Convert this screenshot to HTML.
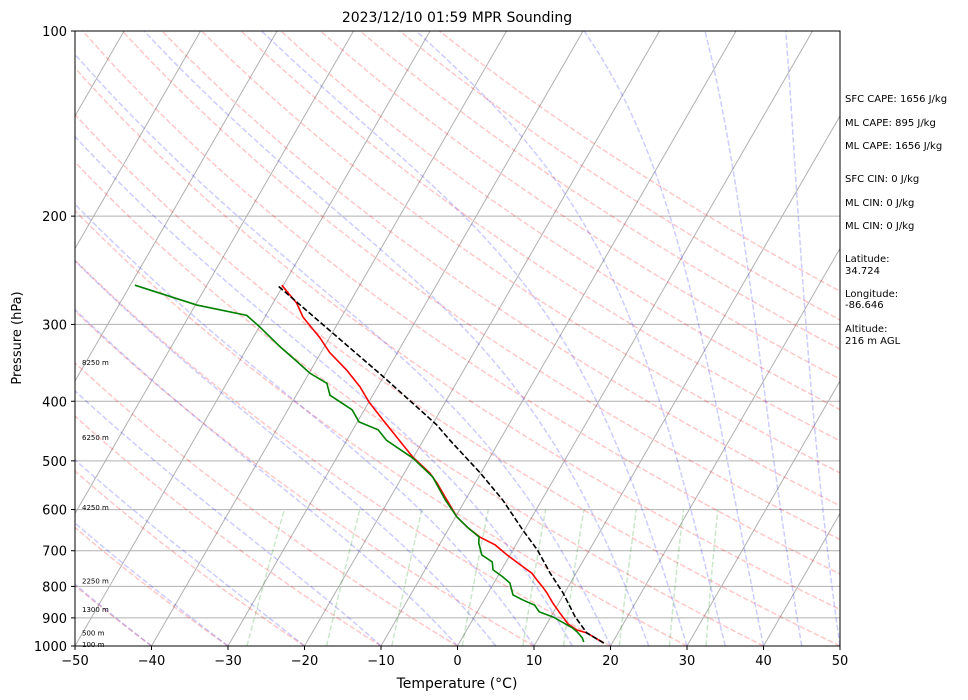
<!DOCTYPE html>
<html><head><meta charset="utf-8"><style>
body{margin:0;background:#fff;}
svg{display:block;font-family:"DejaVu Sans","Liberation Sans",sans-serif;}
</style></head><body>
<svg id="chart" width="968" height="700" viewBox="0 0 968 700" xmlns="http://www.w3.org/2000/svg">
<defs><clipPath id="plotclip"><rect x="75" y="31" width="765" height="615"/></clipPath></defs>
<rect x="0" y="0" width="968" height="700" fill="#fff"/>
<text x="457" y="22" font-size="14" text-anchor="middle">2023/12/10 01:59 MPR Sounding</text>
<g id="bg" clip-path="url(#plotclip)"></g>
<g id="series" clip-path="url(#plotclip)"></g>
<g id="axes"></g>
<text x="457" y="688" font-size="14" text-anchor="middle">Temperature (°C)</text>
<text transform="translate(21,338) rotate(-90)" font-size="13" text-anchor="middle">Pressure (hPa)</text>
<g font-size="10">
<text x="845" y="102">SFC CAPE: 1656 J/kg</text>
<text x="845" y="126">ML CAPE: 895 J/kg</text>
<text x="845" y="149">ML CAPE: 1656 J/kg</text>
<text x="845" y="182">SFC CIN: 0 J/kg</text>
<text x="845" y="206">ML CIN: 0 J/kg</text>
<text x="845" y="229">ML CIN: 0 J/kg</text>
<text x="845" y="262">Latitude:</text>
<text x="845" y="274">34.724</text>
<text x="845" y="297">Longitude:</text>
<text x="845" y="308">-86.646</text>
<text x="845" y="332">Altitude:</text>
<text x="845" y="344">216 m AGL</text>
</g>
</svg>
<script>
const tempP=[989,952,942,921,884,851,820,802,781,761,738,711,685,665,643,617,579,543,523,493,450,429,401,379,356,333,315,292,277,259];
const tempT=[18.9,15.9,14.4,12.8,10.9,9.2,7.7,6.7,5.4,4.2,2.1,-0.4,-2.7,-5.3,-7.5,-9.8,-12.4,-15.0,-16.7,-20.1,-24.5,-26.8,-30.0,-32.3,-35.3,-38.9,-41.3,-45.0,-46.9,-50.2];
const dewP=[985,970,949,935,897,880,858,842,826,790,772,752,730,711,680,665,643,617,579,531,495,463,445,432,413,391,374,360,345,326,303,290,279,259];
const dewT=[16.2,15.7,14.6,13.7,10.3,8.1,7.0,5.1,3.4,2.1,0.7,-1.1,-1.8,-3.7,-5.0,-5.4,-7.5,-9.8,-12.6,-16.0,-20.0,-24.8,-26.7,-29.8,-31.6,-35.6,-36.9,-39.9,-42.4,-45.8,-49.9,-52.5,-59.8,-69.4];
const parcelP=[989,952,897,820,761,698,648,579,523,463,437,365,310,259];
const parcelT=[18.9,15.9,13.2,9.8,6.6,3.2,-0.2,-5.1,-10.1,-16.5,-19.4,-30.0,-39.9,-50.8];
const xTicks=[-50,-40,-30,-20,-10,0,10,20,30,40,50];
const pTicks=[100,200,300,400,500,600,700,800,900,1000];
const heightLabels=["8250 m","6250 m","4250 m","2250 m","1300 m","500 m","100 m"];
const heightP=[345,457,594,782,870,950,993];
const mixRatios=[0.0004,0.001,0.002,0.004,0.007,0.01,0.016,0.024,0.032];

const NS="http://www.w3.org/2000/svg";
const SKEW=Math.tan(Math.PI/6);
function yPix(p){return 646-615*Math.log10(1000/p);}
function xPix(T,p){return 75+(T+50)*7.65+(646-yPix(p))*SKEW;}
function mk(tag,attrs,parent){const e=document.createElementNS(NS,tag);for(const k in attrs)e.setAttribute(k,attrs[k]);parent.appendChild(e);return e;}
const bg=document.getElementById('bg'),ser=document.getElementById('series'),ax=document.getElementById('axes');
function pathFrom(ps,ts){return ps.map((p,i)=>(i?'L':'M')+xPix(ts[i],p).toFixed(2)+','+yPix(p).toFixed(2)).join('');}
const pLevels=[];for(let p=1000;p>=100;p-=10)pLevels.push(p);

// isobars
for(let i=1;i<pTicks.length-1;i++){
  const l=mk('line',{x1:75,x2:840,y1:yPix(pTicks[i]),y2:yPix(pTicks[i]),stroke:'#b0b0b0','stroke-width':1},bg);
  
  
}
// isotherms
for(let T=-150;T<=50;T+=10){
  const l=mk('line',{x1:xPix(T,1000),y1:yPix(1000),x2:xPix(T,100),y2:yPix(100),stroke:'#b0b0b0','stroke-width':1},bg);
  
  
}
// dry adiabats
for(let th=-50;th<=160;th+=10){
  const K=th+273.15;const ts=pLevels.map(p=>K*Math.pow(p/1000,0.2857)-273.15);
  const e=mk('path',{d:pathFrom(pLevels,ts),fill:'none',stroke:'rgba(255,0,0,0.22)','stroke-width':1.5,'stroke-dasharray':'5.5,2.4'},bg);
  
  
}
// moist adiabats
function es(Tc){return 6.112*Math.exp(17.67*Tc/(Tc+243.5));}
function moist(T0){
  const ts=[];let T=T0+273.15;let p=1000;ts.push(T0);
  const Rd=287.04,Cp=1005.7,Lv=2.501e6,eps=0.622;
  for(let i=1;i<pLevels.length;i++){
    const pn=pLevels[i];const n=10;const dp=(pn-p)/n;
    for(let k=0;k<n;k++){
      const e=es(T-273.15);const rs=eps*e/(p-e);
      const dTdp=(1/p)*(Rd*T+Lv*rs)/(Cp+Lv*Lv*rs*eps/(Rd*T*T));
      T+=dTdp*dp;p+=dp;
    }
    ts.push(T-273.15);
  }
  return ts;
}
const moistT0=[-50,-40,-30,-20,-10,0,5,10,15,20,25,30,35,40,45,50];
moistT0.forEach(t0=>{
  const e=mk('path',{d:pathFrom(pLevels,moist(t0)),fill:'none',stroke:'rgba(0,0,255,0.2)','stroke-width':1.5,'stroke-dasharray':'5.5,2.4'},bg);
  
  
});
// mixing ratio lines
const mixP=[];for(let p=1000;p>=600;p-=20)mixP.push(p);
mixRatios.forEach(w=>{
  const ts=mixP.map(p=>{const e=p*w/(0.622+w);const l=Math.log(e/6.112);return 243.5*l/(17.67-l);});
  const e=mk('path',{d:pathFrom(mixP,ts),fill:'none',stroke:'rgba(0,128,0,0.2)','stroke-width':1.5,'stroke-dasharray':'5.5,2.4'},bg);
  
  
});
// series
const tl=mk('path',{d:pathFrom(tempP,tempT),fill:'none',stroke:'#ff0000','stroke-width':1.6},ser);


const dl=mk('path',{d:pathFrom(dewP,dewT),fill:'none',stroke:'#008000','stroke-width':1.6},ser);


const pl=mk('path',{d:pathFrom(parcelP,parcelT),fill:'none',stroke:'#000','stroke-width':1.6,'stroke-dasharray':'5.5,2.4'},ser);


// height labels
heightLabels.forEach((s,i)=>{
  const t=mk('text',{x:82,y:yPix(heightP[i])+3,'font-size':7},ax);t.textContent=s;
  
  
});
// frame
const fr=mk('rect',{x:75,y:31,width:765,height:615,fill:'none',stroke:'#000','stroke-width':1},ax);


// x ticks
xTicks.forEach(T=>{
  const x=75+(T+50)*7.65;
  mk('line',{x1:x,x2:x,y1:646,y2:650,stroke:'#000'},ax);
  const t=mk('text',{x:x,y:665,'font-size':13,'text-anchor':'middle'},ax);t.textContent=(T<0?'\u2212'+(-T):T);
  
  
});
// y ticks
pTicks.forEach(p=>{
  const y=yPix(p);
  mk('line',{x1:71,x2:75,y1:y,y2:y,stroke:'#000'},ax);
  const t=mk('text',{x:67,y:y+5,'font-size':13,'text-anchor':'end'},ax);t.textContent=p;
  
  
});
</script>
</body></html>
